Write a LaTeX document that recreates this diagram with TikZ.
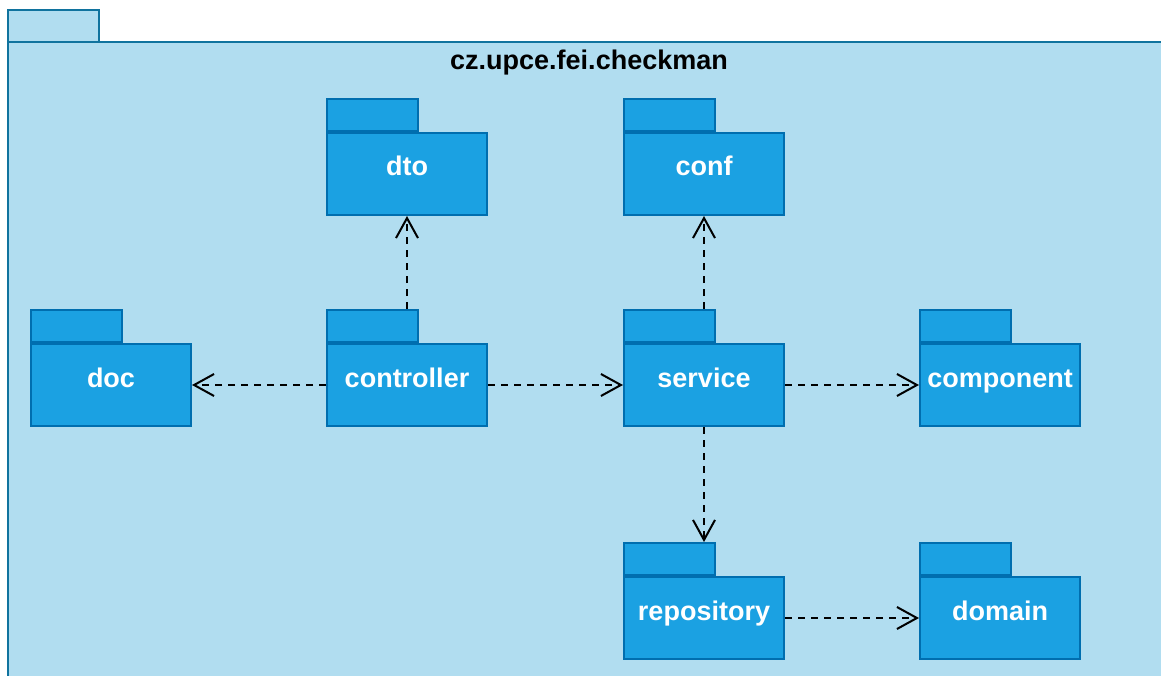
\documentclass[tikz,border=0pt]{standalone}
\usepackage{fontspec}
\setmainfont{Liberation Sans}
\usetikzlibrary{arrows.meta}
\definecolor{outerfill}{HTML}{B1DDF0}
\definecolor{outerdraw}{HTML}{10739E}
\definecolor{pkgfill}{HTML}{1BA1E2}
\definecolor{pkgdraw}{HTML}{006EAF}
\tikzset{
  pkgbody/.style={draw=pkgdraw, fill=pkgfill, line width=2pt, minimum width=160pt, minimum height=82pt, inner sep=0pt, text height=20pt, text depth=16pt, text=white, font=\fontsize{27}{32}\selectfont\bfseries},
  pkgtab/.style={draw=pkgdraw, fill=pkgfill, line width=2pt, minimum width=91pt, minimum height=32pt, inner sep=0pt, anchor=south west},
  outerbox/.style={draw=outerdraw, fill=outerfill, line width=2.2pt},
  titletext/.style={font=\fontsize{27}{32}\selectfont\bfseries, text=black},
  dep/.style={draw=black, line width=2pt, dash pattern=on 7pt off 6pt, -{Straight Barb[length=20pt,width=22pt]}}
}
\begin{document}
\begin{tikzpicture}[x=1pt, y=-1pt]
\useasboundingbox (0,0) rectangle (1161,676);
\clip (0,0) rectangle (1161,676);
% outer package
\draw[outerbox] (8,10) rectangle (99,42);
\draw[outerbox] (8,42) rectangle (1172,690);
\node[titletext] (title) at (589,63) {cz.upce.fei.checkman};
% packages
\node[pkgbody] (dto) at (407,174) {dto};
\node[pkgbody] (conf) at (704,174) {conf};
\node[pkgbody] (doc) at (111,385) {doc};
\node[pkgbody] (controller) at (407,385) {controller};
\node[pkgbody] (service) at (704,385) {service};
\node[pkgbody] (component) at (1000,385) {component};
\node[pkgbody] (repository) at (704,618) {repository};
\node[pkgbody] (domain) at (1000,618) {domain};
% tabs
\foreach \n in {dto,conf,doc,controller,service,component,repository,domain}{
  \node[pkgtab] (\n tab) at (\n.north west) {};
}
% dependencies
\draw[dep] (controller.north |- controllertab.north) -- (dto.south);
\draw[dep] (controller.west) -- (doc.east);
\draw[dep] (controller.east) -- (service.west);
\draw[dep] (service.north |- servicetab.north) -- (conf.south);
\draw[dep] (service.east) -- (component.west);
\draw[dep] (service.south) -- (service.south |- repositorytab.north);
\draw[dep] (repository.east) -- (domain.west);
\end{tikzpicture}
\end{document}
